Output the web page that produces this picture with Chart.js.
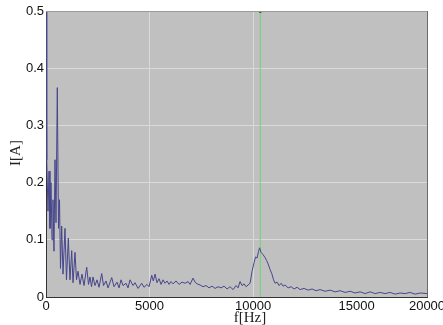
<!DOCTYPE html>
<html>
<head>
<meta charset="utf-8">
<style>
html, body { margin: 0; padding: 0; background: #fff; }
#wrap { width: 443px; height: 325px; }
</style>
<script src="https://cdn.jsdelivr.net/npm/chart.js@4.4.0/dist/chart.umd.min.js"></script>
</head>
<body>
<div id="wrap"><canvas id="spectrum"></canvas></div>
<script>
// spectrum (Hz / A)
const freqHz = [
  0, 24, 48, 97, 145, 193, 242, 290, 338, 386, 435, 483, 546, 604, 652, 700,
  758, 821, 918, 990, 1077, 1159, 1242, 1304, 1401, 1473, 1546, 1643, 1739, 1836,
  1966, 2053, 2126, 2198, 2271, 2367, 2464, 2560, 2691, 2778, 2899, 2995, 3174, 3285,
  3430, 3527, 3623, 3720, 3865, 3961, 4058, 4203, 4300, 4445, 4623, 4734, 4879, 4976,
  5106, 5184, 5266, 5362, 5459, 5556, 5652, 5749, 5846, 5942, 6039, 6135, 6280, 6425,
  6570, 6715, 6860, 6957, 7102, 7198, 7295, 7440, 7585, 7730, 7874, 8019, 8164, 8309,
  8454, 8599, 8744, 8889, 9034, 9179, 9276, 9372, 9469, 9565, 9662, 9759, 9855, 9952,
  10048, 10121, 10193, 10266, 10314, 10387, 10483, 10580, 10652, 10725, 10821, 10903,
  10990, 11063, 11160, 11256, 11353, 11449, 11546, 11691, 11836, 11981, 12126, 12271,
  12464, 12657, 12850, 13044, 13237, 13478, 13720, 13962, 14203, 14445, 14686, 14928,
  15169, 15411, 15652, 15894, 16136, 16377, 16619, 16860, 17102, 17343, 17585, 17826,
  18068, 18406
];
const currentA = [
  0.55, 0.46, 0.24, 0.15, 0.22, 0.12, 0.20, 0.10, 0.17, 0.08, 0.24, 0.13, 0.366, 0.12, 0.17, 0.05,
  0.124, 0.04, 0.12, 0.03, 0.103, 0.03, 0.081, 0.025, 0.078, 0.03, 0.045, 0.022, 0.04, 0.02,
  0.052, 0.022, 0.035, 0.018, 0.035, 0.02, 0.03, 0.017, 0.041, 0.02, 0.028, 0.016, 0.034, 0.018,
  0.026, 0.016, 0.03, 0.02, 0.024, 0.016, 0.03, 0.02, 0.025, 0.015, 0.024, 0.017, 0.022, 0.018,
  0.038, 0.028, 0.04, 0.025, 0.032, 0.022, 0.03, 0.024, 0.028, 0.022, 0.027, 0.023, 0.028, 0.022,
  0.026, 0.024, 0.027, 0.022, 0.033, 0.026, 0.023, 0.021, 0.018, 0.02, 0.016, 0.019, 0.015, 0.018,
  0.016, 0.019, 0.014, 0.018, 0.013, 0.02, 0.016, 0.027, 0.02, 0.023, 0.018, 0.021, 0.024, 0.045,
  0.06, 0.07, 0.068, 0.08, 0.086, 0.078, 0.074, 0.069, 0.064, 0.058, 0.048, 0.041,
  0.03, 0.024, 0.026, 0.02, 0.024, 0.019, 0.021, 0.016, 0.018, 0.014, 0.017, 0.013,
  0.015, 0.012, 0.014, 0.011, 0.013, 0.01, 0.012, 0.009, 0.011, 0.008, 0.01, 0.007,
  0.009, 0.006, 0.009, 0.006, 0.008, 0.006, 0.008, 0.005, 0.007, 0.006, 0.008, 0.005,
  0.007, 0.006
];

const xTickValues = [0, 5000, 10000, 15000, 18400];
const xTickLabels = ['0', '5000', '10000', '15000', '20000'];
const cursorHz = 10350;

const ctx = document.getElementById('spectrum').getContext('2d');

const plotFrame = {
  id: 'plotFrame',
  beforeDraw(chart) {
    const a = chart.chartArea;
    const c = chart.ctx;
    c.save();
    c.fillStyle = '#c0c0c0';
    c.fillRect(a.left, a.top, a.right - a.left, a.bottom - a.top);
    c.restore();
  },
  afterDraw(chart) {
    const a = chart.chartArea;
    const c = chart.ctx;
    c.save();
    c.lineWidth = 1;
    c.strokeStyle = '#9a9a9a';
    c.beginPath();
    c.moveTo(a.left, a.top + 0.5);
    c.lineTo(a.right, a.top + 0.5);
    c.stroke();
    c.strokeStyle = '#6a6a6a';
    c.beginPath();
    c.moveTo(a.right + 0.5, a.top);
    c.lineTo(a.right + 0.5, a.bottom);
    c.stroke();

    // axis titles
    c.fillStyle = '#222';
    c.font = '15px "Liberation Serif"';
    c.textAlign = 'center';
    c.textBaseline = 'middle';
    c.fillText('f[Hz]', 250, 318);
    c.translate(16, 153);
    c.rotate(-Math.PI / 2);
    c.fillText('I[A]', 0, 0);
    c.restore();
  }
};

new Chart(ctx, {
  type: 'line',
  data: {
    datasets: [
      {
        data: freqHz.map((f, i) => ({ x: f, y: currentA[i] })),
        borderColor: '#46468c',
        borderWidth: 1,
        pointRadius: 0,
        tension: 0
      },
      {
        data: [{ x: cursorHz, y: 0 }, { x: cursorHz, y: 0.5 }],
        borderColor: '#6fd66f',
        borderWidth: 1,
        pointRadius: [0, 1.5],
        pointStyle: 'rect',
        pointBackgroundColor: '#000',
        pointBorderColor: '#000'
      }
    ]
  },
  options: {
    responsive: true,
    maintainAspectRatio: false,
    animation: false,
    layout: { padding: { top: 11, right: 16, bottom: 0, left: 0 } },
    plugins: {
      legend: { display: false },
      tooltip: { enabled: false }
    },
    scales: {
      x: {
        type: 'linear',
        min: 0,
        max: 18400,
        afterBuildTicks: (scale) => {
          scale.ticks = xTickValues.map(v => ({ value: v }));
        },
        afterFit: (scale) => {
          scale.height = 28;
          scale.paddingLeft = 0;
          scale.paddingRight = 0;
        },
        ticks: {
          autoSkip: false,
          maxRotation: 0,
          padding: 2,
          color: '#111',
          font: { family: 'Liberation Sans', size: 13 },
          callback: (v, i) => xTickLabels[i]
        },
        grid: {
          drawTicks: false,
          color: (c) => (c.index === 1 || c.index === 2) ? '#dadada' : 'rgba(0,0,0,0)'
        },
        border: { color: '#333', width: 1 }
      },
      y: {
        min: 0,
        max: 0.5,
        afterFit: (scale) => {
          scale.width = 46;
          scale.paddingTop = 0;
          scale.paddingBottom = 0;
        },
        ticks: {
          stepSize: 0.1,
          padding: 2,
          color: '#111',
          font: { family: 'Liberation Sans', size: 13 }
        },
        grid: {
          drawTicks: false,
          color: (c) => (c.index > 0 && c.index < 5) ? '#dadada' : 'rgba(0,0,0,0)'
        },
        border: { color: '#333', width: 1 }
      }
    }
  },
  plugins: [plotFrame]
});
</script>
</body>
</html>
